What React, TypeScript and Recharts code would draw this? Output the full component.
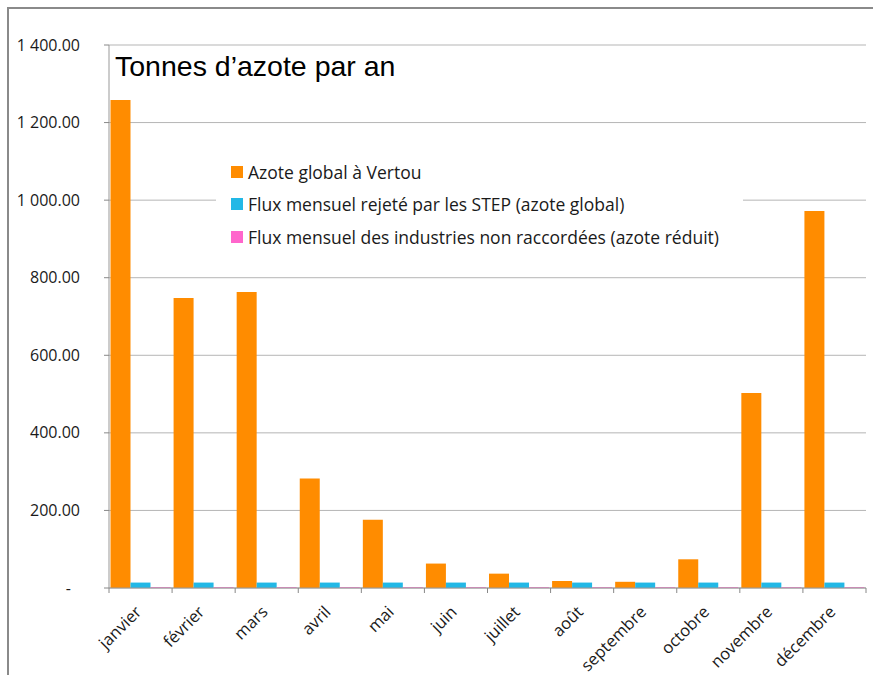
import React from 'react';
import { BarChart, Bar, XAxis, YAxis, CartesianGrid } from 'recharts';

// Values (tonnes)
const months = [
  'janvier', 'février', 'mars', 'avril', 'mai', 'juin',
  'juillet', 'août', 'septembre', 'octobre', 'novembre', 'décembre',
];
const azoteVertou = [1258, 748, 763, 282, 176, 63, 37, 18, 16, 74, 503, 972];
const fluxStep = [14, 14, 14, 14, 14, 14, 14, 14, 14, 14, 14, 14];
const fluxIndustries = [2, 2, 2, 2, 2, 2, 2, 2, 2, 2, 2, 2];
const yTicks = [0, 200, 400, 600, 800, 1000, 1200, 1400];

const seriesNames = [
  'Azote global à Vertou',
  'Flux mensuel rejeté par les STEP (azote global)',
  'Flux mensuel des industries non raccordées (azote réduit)',
];
const seriesColors = ['#ff8c00', '#22b8e6', '#ff66cc'];

const data = months.map((month, i) => ({
  month,
  vertou: azoteVertou[i],
  step: fluxStep[i],
  industries: fluxIndustries[i],
}));

const WIDTH = 873;
const HEIGHT = 675;
const MARGIN = { top: 45, right: 7, left: 0, bottom: 0 };
const Y_AXIS_WIDTH = 109;
const BAND = (WIDTH - MARGIN.right - Y_AXIS_WIDTH) / months.length;
const LABEL_FONT = '"Open Sans", "Noto Sans", sans-serif';

const formatY = (v: number) => {
  const thousands = Math.floor(v / 1000);
  const rest = v % 1000;
  const body = thousands ? `${thousands} ${String(rest).padStart(3, '0')}` : `${rest}`;
  return `${body}.00`;
};

const YTick = (props: any) => {
  const { x, y, payload } = props;
  const zero = payload.value === 0;
  return (
    <g>
      <line x1={x + 24} x2={x + 29} y1={y} y2={y} stroke="#888" />
      <text
        x={zero ? x - 9 : x}
        y={y}
        dy={5.5}
        textAnchor="end"
        fontFamily={LABEL_FONT}
        fontSize={16}
        fill="#1a1a1a"
      >
        {zero ? '-' : formatY(payload.value)}
      </text>
    </g>
  );
};

const XTick = (props: any) => {
  const { x, y, payload, index } = props;
  const tx = x + 2;
  const ty = y + 25;
  return (
    <g>
      <line x1={x - BAND / 2} x2={x - BAND / 2} y1={y} y2={y + 5} stroke="#888" />
      {index === months.length - 1 && (
        <line x1={x + BAND / 2} x2={x + BAND / 2} y1={y} y2={y + 5} stroke="#888" />
      )}
      <text
        x={tx}
        y={ty}
        textAnchor="end"
        transform={`rotate(-45, ${tx}, ${ty})`}
        fontFamily={LABEL_FONT}
        fontSize={16.5}
        fill="#1a1a1a"
      >
        {payload.value}
      </text>
    </g>
  );
};

const App: React.FC = () => {
  return (
    <div style={{ position: 'absolute', left: 0, top: 0, width: WIDTH, height: HEIGHT, background: '#fff' }}>
      <div
        style={{
          position: 'absolute',
          left: 7,
          top: 7,
          width: WIDTH - 7,
          height: HEIGHT - 7,
          boxSizing: 'border-box',
          borderLeft: '2px solid #8a8a8a',
          borderTop: '2px solid #8a8a8a',
        }}
      />
      <BarChart
        width={WIDTH}
        height={HEIGHT}
        data={data}
        margin={MARGIN}
        barCategoryGap={1.5}
        barGap={0}
      >
        <CartesianGrid vertical={false} stroke="#b5b5b5" />
        <XAxis
          dataKey="month"
          interval={0}
          height={87}
          tickLine={false}
          tickSize={0}
          tickMargin={0}
          stroke="#999"
          tick={<XTick />}
        />
        <YAxis
          width={Y_AXIS_WIDTH}
          domain={[0, 1400]}
          ticks={yTicks}
          interval={0}
          tickLine={false}
          tickSize={0}
          tickMargin={29}
          stroke="#999"
          tick={<YTick />}
        />
        <Bar dataKey="vertou" fill={seriesColors[0]} isAnimationActive={false} />
        <Bar dataKey="step" fill={seriesColors[1]} isAnimationActive={false} />
        <Bar dataKey="industries" fill={seriesColors[2]} isAnimationActive={false} />
      </BarChart>

      <div
        style={{
          position: 'absolute',
          left: 115,
          top: 49,
          fontFamily: '"Liberation Sans", Arial, sans-serif',
          fontSize: 28.5,
          lineHeight: '34px',
          color: '#000',
        }}
      >
        Tonnes d’azote par an
      </div>

      <div
        style={{
          position: 'absolute',
          left: 216,
          top: 150,
          width: 527,
          height: 105,
          background: '#fff',
          fontFamily: LABEL_FONT,
          fontSize: 17.5,
          lineHeight: '22px',
          color: '#1a1a1a',
        }}
      >
        {seriesNames.map((name, i) => (
          <div
            key={name}
            style={{ position: 'absolute', left: 15, top: 11 + i * 32.3, display: 'flex', alignItems: 'center', whiteSpace: 'nowrap' }}
          >
            <span style={{ display: 'inline-block', width: 12, height: 12, background: seriesColors[i], marginRight: 5 }} />
            <span>{name}</span>
          </div>
        ))}
      </div>
    </div>
  );
};

export default App;
